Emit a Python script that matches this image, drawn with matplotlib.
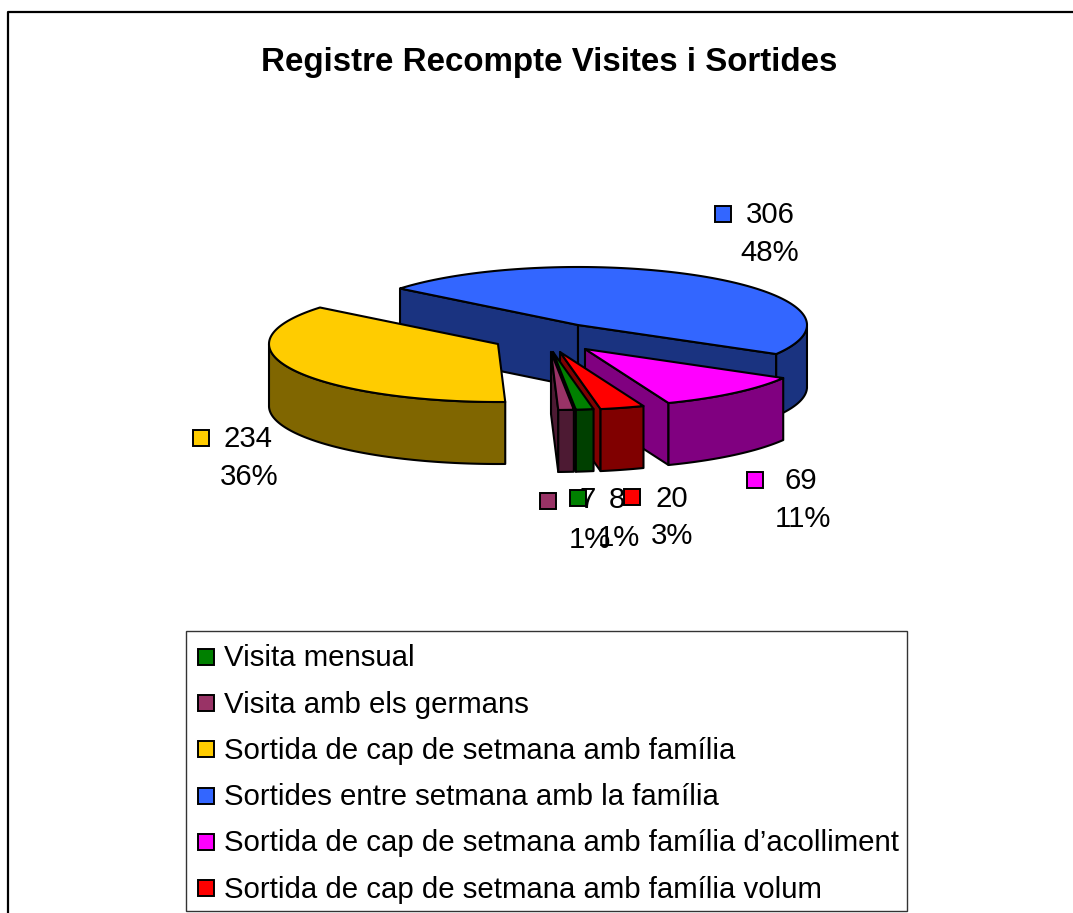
import numpy as np
from matplotlib import pyplot as plt
from matplotlib.patches import Polygon, Rectangle

plt.rcParams['font.family'] = ['Liberation Sans', 'DejaVu Sans']

categories = ['Visita mensual', 'Visita amb els germans', 'Sortida de cap de setmana amb família',
              'Sortides entre setmana amb la família', "Sortida de cap de setmana amb família d’acolliment",
              'Sortida de cap de setmana amb família volum']
values = [8, 7, 234, 306, 69, 20]
title = 'Registre Recompte Visites i Sortides'

top_colors = ['#008000', '#993366', '#FFCC00', '#3366FF', '#FF00FF', '#FF0000']
side_colors = ['#004000', '#4D1A33', '#806600', '#1A3380', '#800080', '#800000']

# pie geometry, in pixels of the picture
cx, cy = 578, 325
rx, ry = 229, 58
depth = 62
first_angle = 280.2
offsets = [(-25, 27), (-27, 27), (-80, 19), (0, 0), (7, 24), (-18, 27)]
draw_order = [3, 2, 4, 5, 0, 1]

# where the data labels go: key centre, value text centre, percent text centre
label_keys = [(578, 498), (548, 501), (201, 438), (723, 214), (755, 480), (632, 497)]
label_vals = [(617, 500), (588, 500), (248, 439), (770, 215), (801, 481), (672, 499)]
label_pcts = [(619, 538), (590, 540), (249, 477), (770, 253), (803, 519), (672, 536)]

fig = plt.figure(figsize=(10.73, 9.13), dpi=100)
ax = fig.add_axes([0, 0, 1, 1])
ax.set_xlim(0, 1073)
ax.set_ylim(913, 0)
ax.axis('off')

LW = 1.5
FS = 21.2


def point(ang, ox, oy):
    a = np.radians(ang)
    return cx + ox + rx * np.cos(a), cy + oy - ry * np.sin(a)


def face(pts, color, z):
    ax.add_patch(Polygon(pts, closed=True, facecolor=color, edgecolor='black', lw=LW,
                         joinstyle='round', zorder=z))


# slice angles go clockwise from the first one
sweeps = np.array(values) / sum(values) * 360
starts = first_angle - np.concatenate([[0], np.cumsum(sweeps)[:-1]])
ends = starts - sweeps

z = 2
for i in draw_order:
    ox, oy = offsets[i]
    apex = (cx + ox, cy + oy)
    for ang, show in ((starts[i], np.cos(np.radians(starts[i])) < 0),
                      (ends[i], np.cos(np.radians(ends[i])) > 0)):
        if show:
            p = point(ang, ox, oy)
            face([apex, p, (p[0], p[1] + depth), (apex[0], apex[1] + depth)], side_colors[i], z)
            z += 1
    # outer wall: only the part of the arc turned to the viewer
    angs = np.linspace(starts[i], ends[i], 200)
    front = angs[np.sin(np.radians(angs)) < 0]
    if len(front) > 1:
        upper = [point(a, ox, oy) for a in front]
        lower = [(x, y + depth) for x, y in upper[::-1]]
        face(upper + lower, side_colors[i], z)
        z += 1
    face([apex] + [point(a, ox, oy) for a in angs], top_colors[i], z)
    z += 1

# chart frame, the right and bottom sides fall outside the picture
ax.plot([8, 8, 1073], [913, 12, 12], color='black', lw=1.6, zorder=1, clip_on=False)

ax.text(549, 62, title, fontsize=23.85, fontweight='bold', ha='center', va='center', zorder=30)

# data labels
for i in range(len(values)):
    pct = round(values[i] / sum(values) * 100)
    ax.text(*label_vals[i], str(values[i]), fontsize=FS, ha='center', va='center', zorder=40)
    ax.text(*label_pcts[i], f'{pct}%', fontsize=FS, ha='center', va='center', zorder=40)
    kx, ky = label_keys[i]
    ax.add_patch(Rectangle((kx - 8, ky - 8), 16, 16, facecolor=top_colors[i], edgecolor='black',
                           lw=1.4, zorder=41))

# legend
ax.add_patch(Rectangle((186, 631), 721, 280, facecolor='white', edgecolor='#333333', lw=1, zorder=20))
for i, name in enumerate(categories):
    y = 657 + i * 46.2
    ax.add_patch(Rectangle((198, y - 8), 16, 16, facecolor=top_colors[i], edgecolor='black',
                           lw=1.4, zorder=21))
    ax.text(224, y + 1.5, name, fontsize=FS, ha='left', va='center', zorder=21)

fig.savefig('out.png', dpi=100)
